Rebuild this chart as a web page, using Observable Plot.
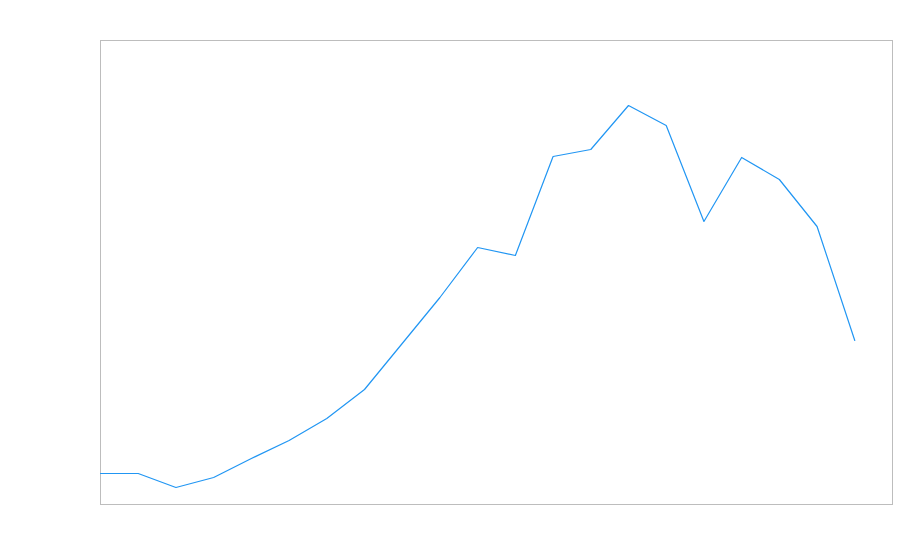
<!DOCTYPE html>
<html>
<head>
<meta charset="utf-8">
<script src="https://cdn.jsdelivr.net/npm/d3@7"></script>
<script src="https://cdn.jsdelivr.net/npm/@observablehq/plot@0.6"></script>
<style>
  html, body { margin: 0; padding: 0; background: #fff; }
</style>
</head>
<body>
<div id="chart"></div>
<script>
const steps = [0,1,2,3,4,5,6,7,8,9,10,11,12,13,14,15,16,17,18,19,20];
const values = [31,31,17,27,46,64,86,115,161,207,257,249,348,355,399,379,283,347,325,278,164];

const data = steps.map((s, i) => ({x: s, y: values[i]}));

const chart = Plot.plot({
  width: 900,
  height: 560,
  marginLeft: 100,
  marginRight: 8,
  marginTop: 40,
  marginBottom: 56,
  x: {domain: [0, 21], axis: null},
  y: {domain: [0, 464], axis: null},
  marks: [
    Plot.frame({stroke: "#bdbdbd", strokeWidth: 1}),
    Plot.line(data, {x: "x", y: "y", stroke: "#2196f3", strokeWidth: 1.2})
  ]
});
document.getElementById("chart").appendChild(chart);
</script>
</body>
</html>
